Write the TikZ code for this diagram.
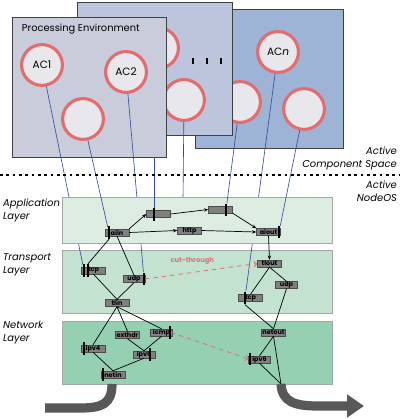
\documentclass[tikz,border=0pt]{standalone}
\usepackage{fontspec}
\setmainfont{Poppins}
\usetikzlibrary{arrows.meta,calc}
\definecolor{frontbox}{RGB}{201,204,219}
\definecolor{midbox}{RGB}{189,197,221}
\definecolor{backbox}{RGB}{158,180,214}
\definecolor{ringred}{RGB}{228,108,108}
\definecolor{discfill}{RGB}{232,232,236}
\definecolor{applayer}{RGB}{221,236,224}
\definecolor{translayer}{RGB}{195,226,207}
\definecolor{netlayer}{RGB}{148,208,177}
\definecolor{modgray}{RGB}{128,128,128}
\definecolor{wireblue}{RGB}{55,75,160}
\definecolor{cutpink}{RGB}{228,110,120}
\definecolor{flowgray}{RGB}{88,88,88}
\tikzset{
  ac/.style={circle,draw=ringred,line width=2.2pt,fill=discfill,minimum size=1.02cm,inner sep=0pt,font=\fontsize{7.5}{8}\selectfont},
  mod/.style={rectangle,draw=black!70,line width=0.3pt,fill=modgray,minimum width=0.6cm,minimum height=0.175cm,inner sep=0pt,font=\fontsize{4.6}{5}\selectfont\bfseries},
  port/.style={rectangle,fill=black,minimum width=1.3pt,minimum height=0.32cm,inner sep=0pt},
  envbox/.style={draw=black!75,line width=0.4pt},
  layerbox/.style={draw=black!35,line width=0.4pt},
  wire/.style={wireblue,line width=0.45pt},
  link/.style={black,line width=0.5pt},
  cut/.style={cutpink,dashed,line width=0.6pt,-{Straight Barb[length=2pt]}},
  flow/.style={flowgray,line width=0.23cm},
  side/.style={font=\fontsize{7.1}{9.3}\selectfont\itshape,inner sep=2pt}
}
\begin{document}
\begin{tikzpicture}[x=0.025cm,y=-0.025cm,>={Stealth[length=3pt,width=2.4pt]}]
\fill[white] (0,0) rectangle (400,419);
\useasboundingbox (0,0) rectangle (400,419);
% the two lower layers
\draw[layerbox,fill=translayer] (62,250) rectangle (332,313);
\draw[layerbox,fill=netlayer] (62,321) rectangle (332,384);
% the component space, back to front
\draw[envbox,fill=backbox] (195,9) rectangle (343,148);
\node[ac] (acn) at (278,52) {AC{\itshape n}};
\node[ac] (bc1) at (240,102) {};
\node[ac] (bc2) at (304,109) {};
\draw[envbox,fill=midbox] (77,2) rectangle (232,135);
\node[ac] (mc1) at (158,48) {};
\node[ac] (mc2) at (184,100) {};
\foreach \x in {193,207,221}
  \fill (\x-1.2,58) rectangle (\x+1.2,64);
\draw[envbox,fill=frontbox] (12,17) rectangle (166,157);
\node[anchor=west,font=\fontsize{7}{8}\selectfont] (pelbl) at (17,29) {Processing Environment};
\node[ac] (ac1) at (42,65) {AC1};
\node[ac] (ac2) at (126,72) {AC2};
\node[ac] (pc) at (83,119) {};
\coordinate (pebot) at (154,157);
\coordinate (mctop) at (183,200);
% transport layer modules
\node[mod] (tcpl) at (93.5,270.5) {tcp};
\node[mod,minimum width=0.55cm] (udpl) at (134,279) {udp};
\node[mod] (tlin) at (117,303) {tlin};
\node[mod] (tlout) at (269.5,263.5) {tlout};
\node[mod,minimum width=0.55cm] (udpr) at (286.5,285) {udp};
\node[mod] (tcpr) at (250.5,298) {tcp};
\node[port] (tcplb1) at (84,270.5) {};
\node[port] (tcplb2) at (88,270.5) {};
\node[port] (udplb) at (144,279) {};
\node[port] (tcprb) at (245,298) {};
% network layer modules
\node[mod] (exthdr) at (127.5,335) {exthdr};
\node[mod,minimum width=0.55cm] (icmp) at (161.5,332.5) {icmp};
\node[mod] (ipv4) at (93,348.5) {ipv4};
\node[mod,minimum width=0.55cm] (ipv6l) at (144,354.5) {ipv6};
\node[mod] (netin) at (113,374.5) {netin};
\node[mod] (netout) at (273.5,332.5) {netout};
\node[mod,minimum width=0.55cm] (ipv6r) at (259.5,359.5) {ipv6};
\node[port] (icmpb) at (170,332.5) {};
\node[port] (ipv4b) at (84,348.5) {};
\node[port] (ipv6lb) at (150,354.5) {};
\node[port] (netinb) at (103,374.5) {};
\node[port] (ipv6rb) at (250,359) {};
\coordinate (inflow) at (112,384);
\coordinate (exit) at (281,384);
% wires that pass behind the application layer
\draw[wire] (ac1) -- (tcplb1);
\draw[wire] (ac2) -- (udplb);
\draw[wire] (acn) -- (tcprb);
\draw[wire] (mc2) -- (mctop);
% application layer
\draw[layerbox,fill=applayer] (62,197) rectangle (332,243);
\node[mod] (aiin) at (117,232.5) {aiin};
\node[mod] (n1) at (158.5,214) {};
\node[mod] (n2) at (220.5,209.5) {};
\node[mod] (http) at (189.5,230.5) {http};
\node[mod] (aiout) at (268.5,232) {aiout};
\node[port] (aiinb) at (109,232.5) {};
\node[port] (n1b) at (154,214.5) {};
\node[port] (n2b) at (226,210) {};
\node[port] (aioutb) at (279,232) {};
% wires from the components
\draw[wire] (pc) -- (aiinb);
\draw[wire] (pebot) -- (n1b);
\draw[wire] (bc1) -- (n2b);
\draw[wire] (bc2) -- (aioutb);
% paths through the modules
\draw[link,->] (aiin.north east) -- (n1.west);
\draw[link,->] (aiin.east) -- (http.west);
\draw[link,->] (n1.east) -- (n2.west);
\draw[link,->] (n2.south east) -- (aiout.north west);
\draw[link,->] (http.east) -- (aiout.west);
\draw[link,->] (aiout.south) -- (tlout.north);
\draw[link] (aiinb.south) -- (tcplb2.north);
\draw[link] (aiin.south) -- (udpl.north);
\draw[link] (tcpl.south) -- (tlin.north);
\draw[link] (udpl.south) -- (tlin.north);
\draw[link] (tlout.south) -- (tcpr.north);
\draw[link] (tlout.south) -- (udpr.north);
\draw[link] (tcprb.south) -- (netout.north);
\draw[link] (udpr.south) -- (netout.north);
\draw[link] (tlin.south) -- (ipv4.north);
\draw[link] (tlin.south) -- (exthdr.north);
\draw[link] (tlin.south) -- (icmp.north);
\draw[link] (exthdr.south) -- (ipv6l.north);
\draw[link] (icmp.south) -- (ipv6l.north);
\draw[link] (ipv4.south) -- (netin.north);
\draw[link] (ipv6l.south) -- (netin.north);
\draw[link] (netout.south) -- (ipv6r.north);
\draw[link] (netout.south) -- (exit);
\draw[link] (ipv6r.south) -- (exit);
% the cut-through paths
\draw[cut] (udplb.east) -- node[pos=0.42,above=2pt,font=\fontsize{4.8}{5}\selectfont\bfseries,text=cutpink] (cutlbl) {cut-through} (tlout.west);
\draw[cut] (icmpb.east) -- (ipv6rb.west);
% packets in and out
\draw[flow] (inflow) .. controls (112,404) and (102,408) .. (80,408) -- (45,408);
\draw[flow,-{Triangle[length=0.42cm,width=0.55cm]}] (exit) .. controls (282,402) and (295,406) .. (318,406) -- (364,406);
% the separator and the labels
\draw[line width=1.3pt,dash pattern=on 1.9pt off 2.6pt] (0,175) -- (400,175);
\node[side,align=right,anchor=south east] (acslbl) at (400,173) {Active\\Component Space};
\node[side,align=right,anchor=north east] (noslbl) at (400,178) {Active\\NodeOS};
\node[side,align=left,anchor=north west] (applbl) at (0,196) {Application\\Layer};
\node[side,align=left,anchor=north west] (trlbl) at (0,250) {Transport\\Layer};
\node[side,align=left,anchor=north west] (nwlbl) at (0,318) {Network\\Layer};
\end{tikzpicture}
\end{document}
